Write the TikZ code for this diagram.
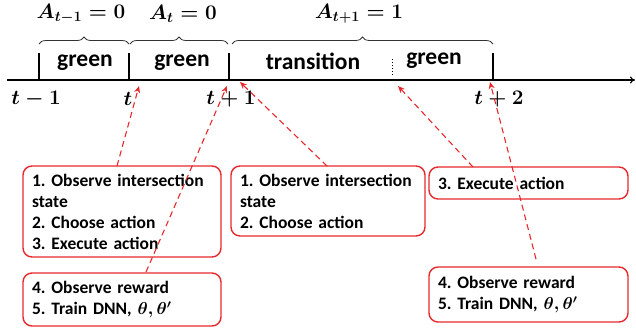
\documentclass[tikz,border=0pt]{standalone}
\usepackage{fontspec}
\setmainfont{Carlito}
\usetikzlibrary{decorations.pathreplacing,arrows.meta}
\definecolor{rd}{RGB}{232,40,44}
\frenchspacing
\begin{document}
\begin{tikzpicture}[x=1pt,y=-1pt,
  lbl/.style={font=\fontsize{23.5}{26}\selectfont\bfseries, inner sep=0pt},
  mlbl/.style={font=\fontsize{20}{24}\selectfont\boldmath, inner sep=0pt},
  box/.style={draw=rd, line width=1.4pt, rounded corners=9pt, align=left,
    font=\fontsize{17.5}{21}\selectfont\bfseries, inner xsep=9pt, inner ysep=0pt, anchor=center},
  darr/.style={draw=rd, line width=1.1pt, dash pattern=on 6pt off 4pt, -{Stealth[length=7pt,width=6pt]}},
  brc/.style={decorate, decoration={brace, amplitude=7pt}, line width=0.8pt, draw=black!80},
  tick/.style={line width=1.1pt}]
\useasboundingbox (0,0) rectangle (636,334);
% axis
\coordinate (ax0) at (7,80);
\coordinate (ax1) at (635,80);
\draw[line width=1.1pt, -{To[length=5pt,width=7pt]}] (ax0) -- (ax1);
% ticks
\foreach \n/\x in {a/39, b/129, c/229, d/493}{
  \coordinate (\n0) at (\x,80);
  \coordinate (\n1) at (\x,53);
  \draw[tick] (\n0) -- (\n1);
}
\coordinate (e0) at (392,75);
\coordinate (e1) at (392,57);
\draw[line width=1pt, dotted] (e0) -- (e1);
% braces
\coordinate (b1a) at (39,44); \coordinate (b1b) at (129,44);
\coordinate (b2a) at (130,44); \coordinate (b2b) at (228,44);
\coordinate (b3a) at (232,44); \coordinate (b3b) at (493,44);
\draw[brc] (b1a) -- (b1b);
\draw[brc] (b2a) -- (b2b);
\draw[brc] (b3a) -- (b3b);
% brace labels
\node[mlbl] (A1) at (81,14) {$A_{t-1}=0$};
\node[mlbl] (A2) at (183,14) {$A_{t}=0$};
\node[mlbl] (A3) at (359,14) {$A_{t+1}=1$};
% segment labels
\node[lbl] (g1) at (85,63) {green};
\node[lbl] (g2) at (182,63) {green};
\node[lbl] (tr) at (313,61) {transition};
\node[lbl] (g3) at (434,61) {green};
% tick labels
\node[mlbl] (t1) at (36,99) {$t-1$};
\node[mlbl] (t2) at (128,99) {$t$};
\node[mlbl] (t3) at (231,99) {$t+1$};
\node[mlbl] (t4) at (499,99) {$t+2$};
% boxes
\node[box, minimum width=198pt, minimum height=91pt, text width=180pt] (B1) at (122,211.5)
  {1. Observe intersection\\state\\2. Choose action\\3. Execute action};
\node[box, minimum width=198pt, minimum height=53pt, text width=180pt] (B2) at (122,299.5)
  {4. Observe reward\\5. Train DNN, {\boldmath$\theta,\theta'$}};
\node[box, minimum width=194pt, minimum height=70pt, text width=176pt] (B3) at (328,201)
  {1. Observe intersection\\state\\2. Choose action};
\node[box, minimum width=199pt, minimum height=32pt, text width=181pt] (B4) at (528.5,183)
  {3. Execute action};
\node[box, minimum width=199pt, minimum height=55pt, text width=181pt] (B5) at (528.5,294.5)
  {4. Observe reward\\5. Train DNN, {\boldmath$\theta,\theta'$}};
% arrow targets
\coordinate (p1) at (139,86);
\coordinate (p2) at (227,86);
\coordinate (p3) at (240,82);
\coordinate (p4) at (398,86);
\coordinate (p5) at (490,82);
\coordinate (s1) at (117,166);
\coordinate (s2) at (146,272);
\coordinate (s3) at (327,166);
\coordinate (s4) at (473,167);
\coordinate (s5) at (536,259);
\draw[darr] (s1) -- (p1);
\draw[darr] (s2) -- (p2);
\draw[darr] (s3) -- (p3);
\draw[darr] (s4) -- (p4);
\draw[darr] (s5) -- (p5);
\end{tikzpicture}
\end{document}
